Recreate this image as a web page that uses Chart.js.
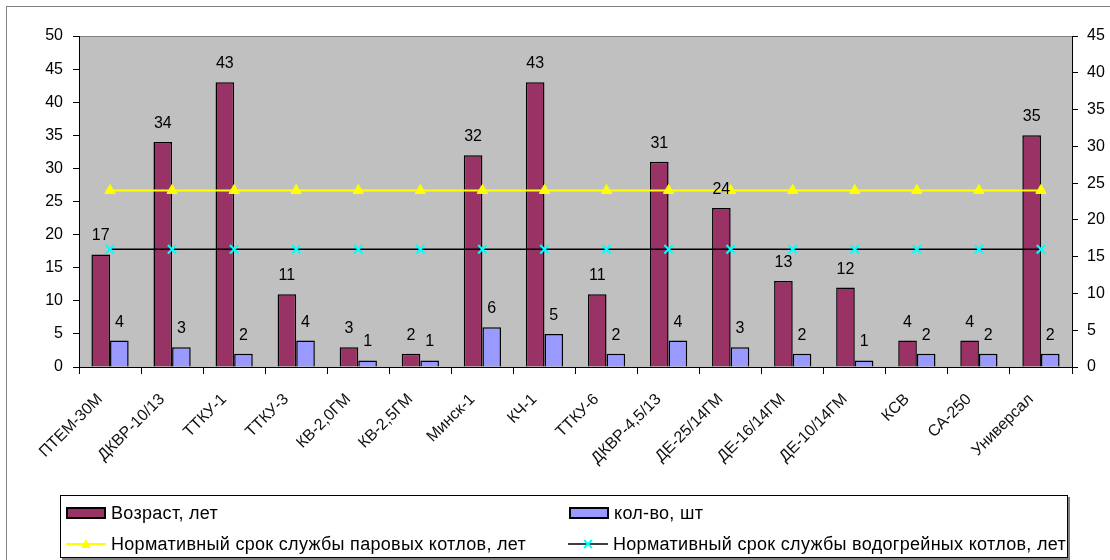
<!DOCTYPE html>
<html>
<head>
<meta charset="utf-8">
<script src="https://cdn.jsdelivr.net/npm/chart.js@4.4.1/dist/chart.umd.min.js"></script>
<style>
  html, body { margin: 0; padding: 0; background: #fff; }
  #wrap { position: relative; width: 1110px; height: 560px; overflow: hidden; font-family: "Liberation Sans", Arial, sans-serif; }
  #frame { position: absolute; left: 6px; top: 6px; width: 1200px; height: 700px; border: 1px solid #808080; }
  #chart { position: absolute; left: 0; top: 0; }
  #legend { position: absolute; left: 60px; top: 495px; width: 1006px; height: 61px; border: 1px solid #000; box-shadow: 2px 2px 0 #808080; background: #fff; }
  .item { position: absolute; display: flex; align-items: center; font-size: 18px; letter-spacing: 0.3px; color: #000; white-space: nowrap; height: 22px; }
  .item svg { margin-right: 5px; }
</style>
</head>
<body>
<div id="wrap">
  <div id="frame"></div>
  <canvas id="chart" width="1110" height="560"></canvas>
  <div id="legend"></div>
</div>
<script>
// --- data ---
const categories = ['ПТЕМ-30М', 'ДКВР-10/13', 'ТТКУ-1', 'ТТКУ-3', 'КВ-2,0ГМ', 'КВ-2,5ГМ', 'Минск-1', 'КЧ-1',
  'ТТКУ-6', 'ДКВР-4,5/13', 'ДЕ-25/14ГМ', 'ДЕ-16/14ГМ', 'ДЕ-10/14ГМ', 'КСВ', 'СА-250', 'Универсал'];
const ageValues   = [17, 34, 43, 11, 3, 2, 32, 43, 11, 31, 24, 13, 12, 4, 4, 35];
const countValues = [4, 3, 2, 4, 1, 1, 6, 5, 2, 4, 3, 2, 1, 2, 2, 2];
const steamNorm   = [24, 24, 24, 24, 24, 24, 24, 24, 24, 24, 24, 24, 24, 24, 24, 24];
const waterNorm   = [16, 16, 16, 16, 16, 16, 16, 16, 16, 16, 16, 16, 16, 16, 16, 16];
const leftAxisMax = 50;
const rightAxisMax = 45;
const tickStep = 5;

const FONT = '"Liberation Sans", Arial, sans-serif';

// grey plot background + grey top edge
const plotBackground = {
  id: 'plotBackground',
  beforeDraw(chart) {
    const { ctx, chartArea: a } = chart;
    ctx.save();
    ctx.fillStyle = '#c0c0c0';
    ctx.fillRect(a.left, a.top, a.right - a.left, a.bottom - a.top);
    ctx.strokeStyle = '#808080';
    ctx.lineWidth = 1;
    ctx.beginPath();
    ctx.moveTo(a.left, a.top + 0.5);
    ctx.lineTo(a.right, a.top + 0.5);
    ctx.stroke();
    ctx.restore();
  }
};

// value labels above bars
const barValues = {
  id: 'barValues',
  afterDatasetsDraw(chart) {
    const { ctx } = chart;
    ctx.save();
    ctx.font = '16px ' + FONT;
    ctx.fillStyle = '#000';
    ctx.textAlign = 'center';
    ctx.textBaseline = 'alphabetic';
    chart.data.datasets.forEach((ds, i) => {
      if (ds.type !== 'bar') return;
      chart.getDatasetMeta(i).data.forEach((bar, j) => {
        ctx.fillText(String(ds.data[j]), bar.x, bar.y - 14);
      });
    });
    ctx.restore();
  }
};

const axisTicks = (extra) => Object.assign({
  color: '#000',
  font: { family: FONT, size: 16 },
  stepSize: tickStep
}, extra);

const chart = new Chart(document.getElementById('chart'), {
  type: 'bar',
  data: {
    labels: categories,
    datasets: [
      { type: 'bar', label: 'Возраст, лет', data: ageValues, yAxisID: 'y', order: 2,
        backgroundColor: '#993366', borderColor: '#000', borderWidth: 1.5,
        categoryPercentage: 0.6, barPercentage: 1.0 },
      { type: 'bar', label: 'кол-во, шт', data: countValues, yAxisID: 'y', order: 2,
        backgroundColor: '#9999ff', borderColor: '#000', borderWidth: 1.5,
        categoryPercentage: 0.6, barPercentage: 1.0 },
      { type: 'line', label: 'Нормативный срок службы паровых котлов, лет', data: steamNorm, yAxisID: 'y1', order: 0,
        borderColor: '#ffff00', borderWidth: 2, pointStyle: 'triangle', pointRadius: 6,
        pointBackgroundColor: '#ffff00', pointBorderColor: '#ffff00', pointBorderWidth: 1 },
      { type: 'line', label: 'Нормативный срок службы водогрейных котлов, лет', data: waterNorm, yAxisID: 'y1', order: 0,
        borderColor: '#000', borderWidth: 1.5, pointStyle: 'crossRot', pointRadius: 6,
        pointBorderColor: '#00ffff', pointBackgroundColor: '#00ffff', pointBorderWidth: 2 }
    ]
  },
  options: {
    responsive: false,
    animation: false,
    layout: { padding: { top: 36, left: 0, right: 0, bottom: 0 } },
    plugins: { legend: { display: false }, tooltip: { enabled: false } },
    scales: {
      x: {
        grid: { offset: true, drawOnChartArea: false, drawTicks: true, tickLength: 7, color: '#000' },
        border: { color: '#000', width: 1 },
        ticks: { color: '#111', font: { family: FONT, size: 16 }, minRotation: 45, maxRotation: 45,
                 autoSkip: false, labelOffset: -10, padding: 16 },
        afterFit: s => { s.height = 193; }
      },
      y: {
        position: 'left', min: 0, max: leftAxisMax,
        grid: { drawOnChartArea: false, tickLength: 6, color: '#000' },
        border: { color: '#000', width: 1 },
        ticks: axisTicks({ padding: 10 }),
        afterFit: s => { s.width = 79; }
      },
      y1: {
        position: 'right', min: 0, max: rightAxisMax,
        grid: { drawOnChartArea: false, tickLength: 6, color: '#000' },
        border: { color: '#000', width: 1 },
        ticks: axisTicks({ padding: 9 }),
        afterFit: s => { s.width = 38; }
      }
    }
  },
  plugins: [plotBackground, barValues]
});

// two-column legend built from the datasets
function legendSymbol(ds) {
  if (ds.type === 'bar') {
    return `<svg width="40" height="12"><rect x="1" y="1" width="38" height="10" fill="${ds.backgroundColor}" stroke="#000" stroke-width="2"/></svg>`;
  }
  const mark = ds.pointStyle === 'triangle'
    ? `<polygon points="20,1 25,10 15,10" fill="${ds.pointBackgroundColor}"/>`
    : `<path d="M16,2 L24,10 M24,2 L16,10" stroke="${ds.pointBorderColor}" stroke-width="2"/>`;
  return `<svg width="40" height="12"><line x1="0" y1="6" x2="40" y2="6" stroke="${ds.borderColor}" stroke-width="${ds.borderWidth}"/>${mark}</svg>`;
}
const legendSlots = [[5, 6], [508, 6], [5, 37], [507, 37]];
const legend = document.getElementById('legend');
chart.data.datasets.forEach((ds, i) => {
  const el = document.createElement('div');
  el.className = 'item';
  el.style.left = legendSlots[i][0] + 'px';
  el.style.top = legendSlots[i][1] + 'px';
  el.innerHTML = legendSymbol(ds) + '<span>' + ds.label + '</span>';
  legend.appendChild(el);
});
</script>
</body>
</html>
